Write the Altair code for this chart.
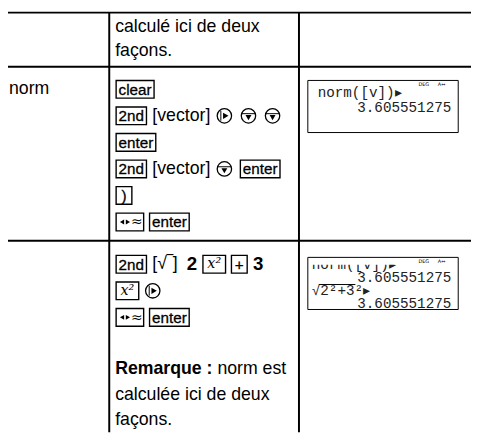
import altair as alt
import pandas as pd

# ---------------- content ----------------
row1_lines = ["calculé ici de deux", "façons."]
func_name = "norm"
row2_keys = [
    [("key", "clear")],
    [("key", "2nd"), ("txt", "[vector]"), ("circ", "right"), ("circ", "down"), ("circ", "down")],
    [("key", "enter")],
    [("key", "2nd"), ("txt", "[vector]"), ("circ", "down"), ("key", "enter")],
    [("key", ")")],
    [("conv", "≈"), ("key", "enter")],
]
row3_keys = [
    [("key", "2nd"), ("txt", "[√‾]"), ("big", "2"), ("ikey", "x²"), ("key", "+"), ("big", "3")],
    [("ikey", "x²"), ("circ", "right")],
    [("conv", "≈"), ("key", "enter")],
]
note_lines = [
    [("bold", "Remarque :"), ("txt", "norm est")],
    [("txt", "calculée ici de deux")],
    [("txt", "façons.")],
]
screen1_lines = ["norm([v])▸", "3.605551275"]
screen2_lines = ["norm([v])▸", "3.605551275", "√2²+3²▸", "3.605551275"]
screen_align = ["left", "right", "left", "right"]
screen_flags = ["DEG", "A↔"]

# ---------------- layout ----------------
PAGE_W, PAGE_H, M = 479, 436, 8
COL_X = [M, 111, 304, PAGE_W]
ROW_Y = [9, 64, 241]
BODY_FS, KEY_FS, KEY_PAD, KEY_H, GAP, CIRC_D, CIRC_GAP = 18, 15.5, 2.5, 18, 6, 16.5, 8
MONO_FS, MONO_W = 14.5, 8.7

ARIAL = {" ": 278, "[": 278, "]": 278, "(": 333, ")": 333, "c": 500, "l": 222, "e": 556,
         "a": 556, "r": 333, "n": 556, "d": 556, "t": 278, "v": 500, "o": 556, "i": 222,
         "u": 556, "x": 500, "s": 500, "m": 833, "é": 556, "ç": 500, ".": 278, ":": 278,
         "+": 584, "√": 549, "‾": 500, "²": 333, "2": 556}
ARIAL_B = {"R": 722, "e": 556, "m": 889, "a": 556, "r": 389, "q": 611, "u": 611, " ": 278,
           ":": 333, "2": 556, "3": 556}


def tw(s, size, table=ARIAL):
    return sum(table.get(ch, 556) for ch in s) * size / 1000.0


rules, keys, key_lbl, ikey_lbl, body, bold, big = [], [], [], [], [], [], []
conv_big, tri_l_small, tri_r_small = [], [], []
circles, tri_r, tri_d, small_rules = [], [], [], []


def rule(x, x2, y, y2, target):
    target.append(dict(x=x, x2=x2, y=y, y2=y2))


def add_key(x, y, w):
    keys.append(dict(x=x, x2=x + w, y=y - KEY_H / 2, y2=y + KEY_H / 2))


def lay(tokens, x, y):
    for kind, val in tokens:
        if kind == "key":
            w = max(tw(val, KEY_FS) + 2 * KEY_PAD, 16)
            add_key(x, y, w)
            key_lbl.append(dict(x=x + w / 2, y=y + 0.5, t=val))
            x += w + GAP
        elif kind == "ikey":
            w = 23
            add_key(x, y, w)
            ikey_lbl.append(dict(x=x + w / 2, y=y, t=val))
            x += w + GAP
        elif kind == "conv":
            w = 28
            add_key(x, y, w)
            tri_l_small.append(dict(x=x + 6, y=y))
            tri_r_small.append(dict(x=x + 12, y=y))
            conv_big.append(dict(x=x + 21, y=y + 0.5, t=val))
            x += w + GAP
        elif kind == "txt":
            body.append(dict(x=x, y=y, t=val))
            x += tw(val, BODY_FS) + GAP
        elif kind == "bold":
            bold.append(dict(x=x, y=y, t=val))
            x += tw(val, BODY_FS, ARIAL_B) + 5
        elif kind == "big":
            big.append(dict(x=x, y=y, t=val))
            x += tw(val, 19, ARIAL_B) + GAP
        elif kind == "circ":
            cx = x + CIRC_D / 2
            circles.append(dict(x=cx, y=y))
            if val == "right":
                rule(cx - 3.6, cx - 3.6, y - 5, y + 5, small_rules)
                tri_r.append(dict(x=cx + 1.4, y=y))
            else:
                rule(cx - 7, cx + 7, y - 2.2, y - 2.2, small_rules)
                tri_d.append(dict(x=cx, y=y + 1.8))
            x += CIRC_D + CIRC_GAP


# table rules
for yy in ROW_Y:
    rule(M, PAGE_W, yy, yy, rules)
for xx in COL_X[1:3]:
    rule(xx, xx, ROW_Y[0], PAGE_H, rules)

# row 1
for i, s in enumerate(row1_lines):
    body.append(dict(x=117, y=24 + i * 24.5, t=s))
# row 2
body.append(dict(x=9, y=87, t=func_name))
for i, toks in enumerate(row2_keys):
    lay(toks, 118, 87 + i * 27)
# row 3
for i, toks in enumerate(row3_keys):
    lay(toks, 118, 265 + i * 27)
for i, toks in enumerate(note_lines):
    lay(toks, 117, 372 + i * 26)

# calculator screens
SX, SX2 = 313, 466
screens = [dict(x=SX, x2=SX2, y=78, y2=131), dict(x=SX, x2=SX2, y=258, y2=311)]
mono_l, mono_r, flags = [], [], []
for sc in screens:
    flags.append(dict(x=SX2 - 35, y=sc["y"] + 4, t=screen_flags[0]))
    flags.append(dict(x=SX2 - 17, y=sc["y"] + 4, t=screen_flags[1]))
mono_l.append(dict(x=323, y=91, t=screen1_lines[0]))
mono_r.append(dict(x=459, y=106, t=screen1_lines[1]))
for i, s in enumerate(screen2_lines):
    yy = 266 + i * 13.3
    if screen_align[i] == "left":
        mono_l.append(dict(x=317, y=yy, t=s))
    else:
        mono_r.append(dict(x=459, y=yy, t=s))
# radical overline over "2²+3²"
rule(317 + MONO_W * 0.85, 317 + MONO_W * 5.1, 266 + 2 * 13.3 - 7, 266 + 2 * 13.3 - 7, small_rules)
clips = [dict(x=SX - 3, x2=SX2 + 3, y=248, y2=265.5), dict(x=SX - 3, x2=SX2 + 3, y=311.5, y2=330)]

# ---------------- chart ----------------
XS = alt.Scale(domain=[M, PAGE_W], range=[0, PAGE_W - M], nice=False, zero=False)
YS = alt.Scale(domain=[M, PAGE_H], range=[0, PAGE_H - M], nice=False, zero=False)


def enc_xy():
    return dict(x=alt.X("x:Q", scale=XS, axis=None), y=alt.Y("y:Q", scale=YS, axis=None))


def seg_layer(data, **mk):
    return alt.Chart(pd.DataFrame(data)).mark_rule(**mk).encode(
        x2="x2:Q", y2="y2:Q", **enc_xy())


def rect_layer(data, **mk):
    return alt.Chart(pd.DataFrame(data)).mark_rect(**mk).encode(
        x2="x2:Q", y2="y2:Q", **enc_xy())


def text_layer(data, color="black", **mk):
    return alt.Chart(pd.DataFrame(data)).mark_text(baseline="middle", color=color, **mk).encode(
        text="t:N", **enc_xy())


def point_layer(data, **mk):
    return alt.Chart(pd.DataFrame(data)).mark_point(opacity=1, **mk).encode(**enc_xy())


layers = [
    seg_layer(rules, color="black", strokeWidth=2),
    rect_layer(keys, fill="white", stroke="black", strokeWidth=1.4),
    text_layer(key_lbl, align="center", font="Liberation Sans", fontSize=KEY_FS,
               stroke="black", strokeWidth=0.3),
    text_layer(ikey_lbl, align="center", font="DejaVu Serif", fontStyle="italic", fontSize=14.5),
    point_layer(tri_l_small, shape="triangle-left", size=24, filled=True, color="black"),
    point_layer(tri_r_small, shape="triangle-right", size=24, filled=True, color="black"),
    text_layer(conv_big, align="center", font="DejaVu Sans", fontSize=14),
    point_layer(circles, shape="circle", size=214, filled=False, color="black", strokeWidth=1.3),
    point_layer(tri_r, shape="triangle-right", size=40, filled=True, color="black"),
    point_layer(tri_d, shape="triangle-down", size=36, filled=True, color="black"),
    text_layer(body, align="left", font="Liberation Sans", fontSize=BODY_FS),
    text_layer(bold, align="left", font="Liberation Sans", fontSize=BODY_FS, fontWeight="bold"),
    text_layer(big, align="left", font="Liberation Sans", fontSize=19, fontWeight="bold"),
    text_layer(mono_l, color="#222222", align="left", font="Liberation Mono", fontSize=MONO_FS),
    text_layer(mono_r, color="#222222", align="right", font="Liberation Mono", fontSize=MONO_FS),
    rect_layer(clips, fill="white", strokeWidth=0),
    text_layer(flags, align="center", font="DejaVu Sans", fontSize=5),
    rect_layer(screens, fillOpacity=0, stroke="black", strokeWidth=1),
    seg_layer(small_rules, color="black", strokeWidth=1),
]

chart = alt.layer(*layers).properties(
    width=PAGE_W - M, height=PAGE_H - M,
    autosize=alt.AutoSizeParams(type="none"), padding=0, background="white",
).configure_view(stroke=None)

chart.save("out.html", embed_options={"renderer": "svg", "actions": False})
